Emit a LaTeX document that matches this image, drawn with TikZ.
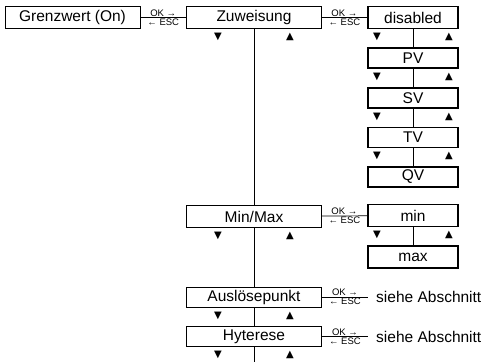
\documentclass[tikz,border=0pt]{standalone}
\usepackage{fontspec}
\setmainfont{Liberation Sans}
\newfontfamily\symfont{DejaVu Sans}
\usetikzlibrary{positioning}

\begin{document}
\begin{tikzpicture}[
    x=1pt, y=-1pt,
    node distance=18pt,
    menu/.style={rectangle, draw, line width=0.8pt, minimum width=135pt, minimum height=22pt, inner sep=0pt, font=\fontsize{15.5}{16}\selectfont},
    choice/.style={menu, line width=1.6pt, minimum width=90.5pt, minimum height=20pt},
    ref/.style={inner xsep=8pt, inner ysep=2pt, anchor=west, font=\fontsize{15.5}{16}\selectfont},
    link/.style={line width=0.7pt},
    key/.style={font=\fontsize{9.5}{10}\selectfont, inner sep=1pt},
    tri/.style={font=\symfont\fontsize{10}{10}\selectfont, inner sep=0pt}
]
    \useasboundingbox (0,0) rectangle (487,362);

    % main menu column
    \node[menu] (grenz) at (72.5,17.5) {Grenzwert (On)};
    \node[menu] (zuw) at (254,17.5) {Zuweisung};
    \node[menu] (minmax) at (254,216.5) {Min/Max};
    \node[menu, minimum height=20pt] (ausl) at (254,297) {Auslösepunkt};
    \node[menu, minimum height=20pt] (hyt) at (254,336.5) {Hyterese};
    \coordinate (bottom) at (254,362);

    % choices
    \node[choice, minimum height=22pt] (dis) at (413,17.5) {disabled};
    \node[choice, below=of dis] (pv) {PV};
    \node[choice, below=of pv] (sv) {SV};
    \node[choice, below=of sv] (tv) {TV};
    \node[choice, below=of tv] (qv) {QV};
    \node[choice, minimum height=22pt] (min) at (413,215.5) {min};
    \node[choice, minimum height=22pt, below=of min] (max) {max};

    % references
    \node[ref] (ausl-ref) at (368,297) {siehe Abschnitt};
    \node[ref] (hyt-ref) at (368,336.5) {siehe Abschnitt};

    % OK / ESC links
    \foreach \a/\b in {grenz/zuw, zuw/dis, minmax/min, ausl/ausl-ref, hyt/hyt-ref}
        \draw[link] (\a) -- node[key, above] {OK →} node[key, below] {← ESC} (\b);

    % up/down lines
    \draw[link] (zuw) -- (minmax);
    \draw[link] (minmax) -- (ausl);
    \draw[link] (ausl) -- (hyt);
    \draw[link] (hyt) -- (bottom);
    \foreach \a/\b in {dis/pv, pv/sv, sv/tv, tv/qv, min/max}
        \draw[link] (\a) -- (\b);

    % arrow keys
    \foreach \b in {zuw, minmax, ausl, hyt, dis, pv, sv, tv, min} {
        \node[tri, below=4pt of \b.south, xshift=-36pt] (\b-dn) {▼};
        \node[tri, below=4pt of \b.south, xshift=36pt] (\b-up) {▲};
    }
\end{tikzpicture}
\end{document}
